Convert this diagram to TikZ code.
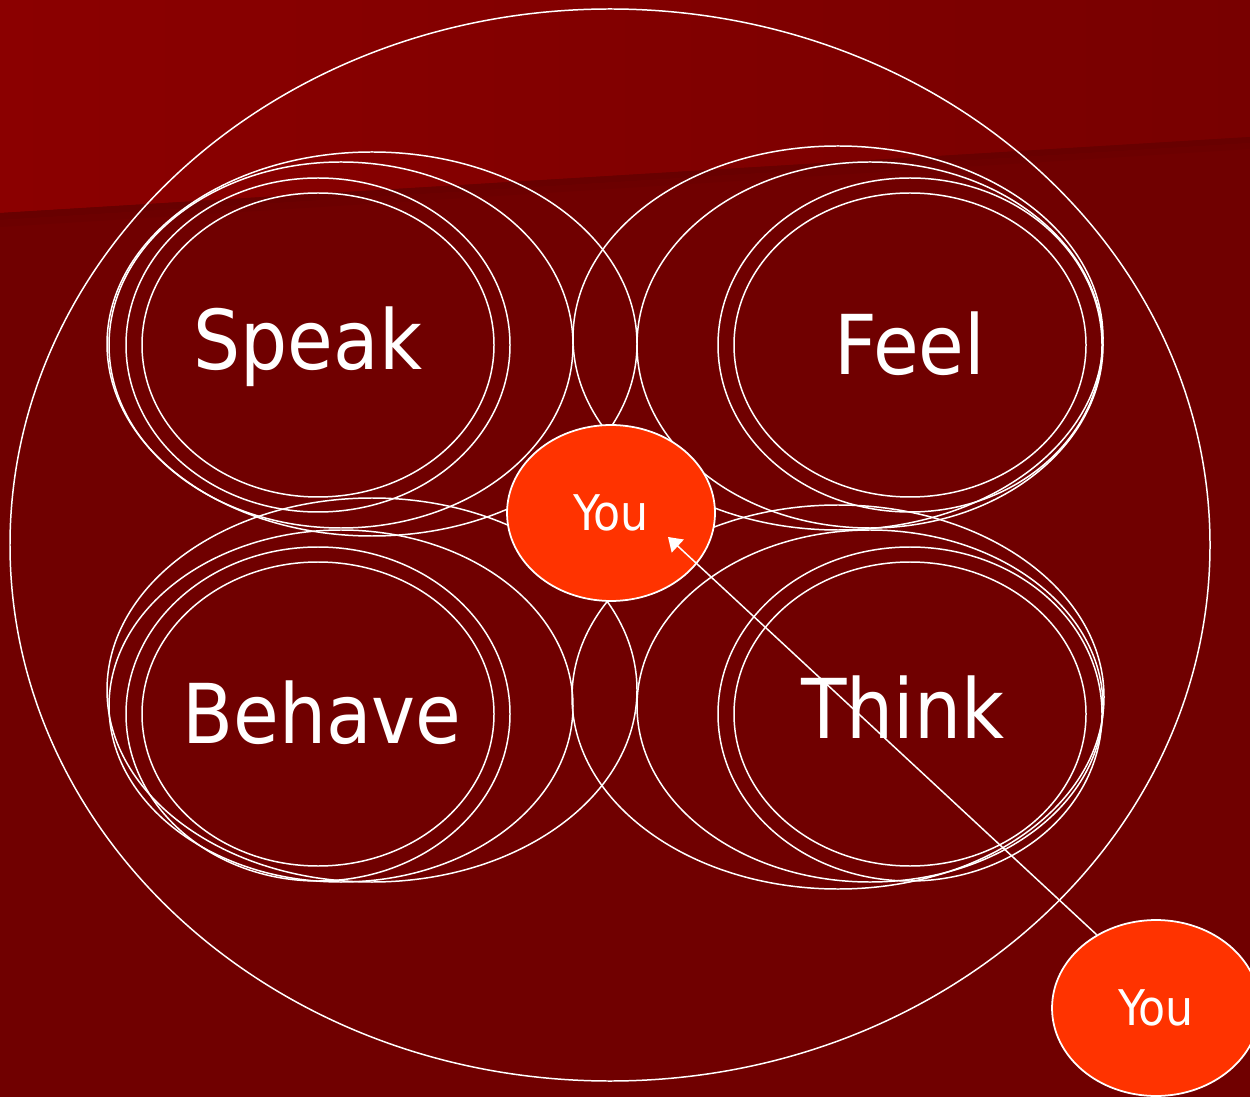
\documentclass[tikz,border=0pt]{standalone}
\usepackage{fontspec}
\setmainfont{DejaVu Sans Condensed}
\usetikzlibrary{shapes.geometric,arrows.meta}

\definecolor{maroonbg}{HTML}{700000}
\definecolor{maroonhi}{HTML}{8B0000}
\definecolor{maroonmid}{HTML}{780000}
\definecolor{maroonshade}{HTML}{680000}
\definecolor{youfill}{HTML}{FF3300}

\tikzset{
  ring/.style={draw=white, line width=0.85pt},
  you/.style={ellipse, draw=white, line width=1pt, fill=youfill, text=white,
    minimum width=4.16cm, minimum height=3.52cm, inner sep=0pt,
    font=\fontsize{28}{28}\selectfont},
  word/.style={text=white, inner sep=0pt, anchor=base,
    font=\fontsize{47}{47}\selectfont},
}

\begin{document}
\begin{tikzpicture}[x=0.02cm, y=-0.02cm]
  \useasboundingbox (0,0) rectangle (1250,1097);
  \clip (0,0) rectangle (1250,1097);

  % background
  \fill[maroonbg] (0,0) rectangle (1250,1097);
  \shade[left color=maroonhi, right color=maroonmid]
    (0,0) -- (1250,0) -- (1250,137) -- (0,213) -- cycle;
  \fill[maroonshade] (0,213) -- (1250,137) -- (1250,143) -- (0,220) -- cycle;
  \fill[maroonshade!50!maroonbg] (0,220) -- (1250,143) -- (1250,149) -- (0,227) -- cycle;

  % outer ring
  \draw[ring] (610,545) ellipse [x radius=600, y radius=536];

  % speak
  \draw[ring] (318,345) ellipse [x radius=176, y radius=152];
  \draw[ring] (318,345) ellipse [x radius=192, y radius=167];
  \draw[ring] (341,345) ellipse [x radius=232, y radius=183];
  \draw[ring] (372,344) ellipse [x radius=265, y radius=192];
  % feel
  \draw[ring] (910,345) ellipse [x radius=176, y radius=152];
  \draw[ring] (910,345) ellipse [x radius=192, y radius=167];
  \draw[ring] (870,345) ellipse [x radius=233, y radius=183];
  \draw[ring] (838,338) ellipse [x radius=265, y radius=192];
  % behave
  \draw[ring] (318,714) ellipse [x radius=176, y radius=152];
  \draw[ring] (318,714) ellipse [x radius=192, y radius=167];
  \draw[ring] (341,706) ellipse [x radius=232, y radius=176];
  \draw[ring] (372,690) ellipse [x radius=265, y radius=192];
  % think
  \draw[ring] (910,714) ellipse [x radius=176, y radius=152];
  \draw[ring] (910,714) ellipse [x radius=192, y radius=167];
  \draw[ring] (870,706) ellipse [x radius=233, y radius=176];
  \draw[ring] (838,697) ellipse [x radius=266, y radius=192];

  \node[word] (speak) at (308,370) {Speak};
  \node[word] (feel) at (910,375) {Feel};
  \node[word] (behave) at (322,743) {Behave};
  \node[word] (think) at (903,738) {Think};

  \node[you] (you) at (611,513) {You};
  \node[you] (youout) at (1156,1008) {You};

  \coordinate (tip) at (668,537);
  \draw[white, line width=0.85pt, -{Triangle[length=7.6pt, width=10pt]}]
    (youout.129) -- (tip);
\end{tikzpicture}
\end{document}
